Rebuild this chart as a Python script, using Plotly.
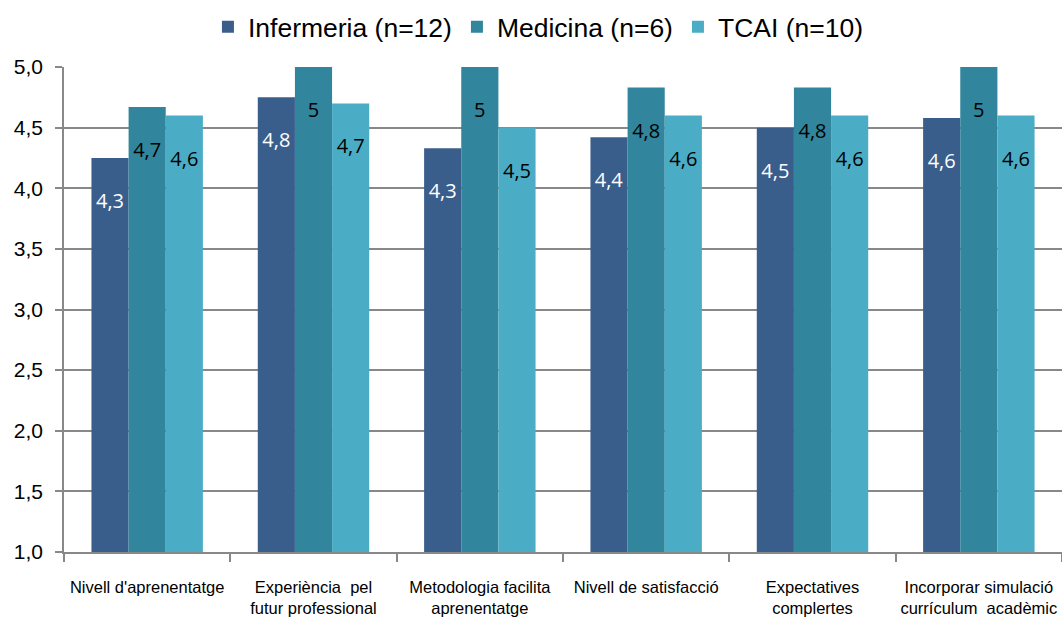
import plotly.graph_objects as go

categories = [
    "Nivell d'aprenentatge",
    "Experiència  pel<br>futur professional",
    "Metodologia facilita<br>aprenentatge",
    "Nivell de satisfacció",
    "Expectatives<br>complertes",
    "Incorporar simulació<br>currículum  acadèmic",
]

infermeria = [4.25, 4.75, 4.33, 4.42, 4.50, 4.58]
medicina = [4.67, 5.00, 5.00, 4.83, 4.83, 5.00]
tcai = [4.60, 4.70, 4.50, 4.60, 4.60, 4.60]

infermeria_labels = ["4,3", "4,8", "4,3", "4,4", "4,5", "4,6"]
medicina_labels = ["4,7", "5", "5", "4,8", "4,8", "5"]
tcai_labels = ["4,6", "4,7", "4,5", "4,6", "4,6", "4,6"]

series = [
    ("Infermeria (n=12)", infermeria, infermeria_labels, "#3A5E8C", "white"),
    ("Medicina (n=6)", medicina, medicina_labels, "#31859C", "black"),
    ("TCAI (n=10)", tcai, tcai_labels, "#4BACC6", "black"),
]

fig = go.Figure()
for name, vals, labels, color, tcolor in series:
    fig.add_trace(go.Bar(
        name=name,
        x=categories,
        y=vals,
        text=["&nbsp;<br>" + t for t in labels],
        textposition="inside",
        insidetextanchor="end",
        constraintext="none",
        textangle=0,
        insidetextfont=dict(family="Open Sans", size=20, color=tcolor),
        marker=dict(color=color, line=dict(width=0)),
        hoverinfo="skip",
    ))

fig.update_layout(
    width=1062, height=627,
    barmode="group",
    bargap=0.33,
    bargroupgap=0,
    separators=", ",
    plot_bgcolor="white",
    paper_bgcolor="white",
    margin=dict(l=64, r=0, t=67, b=75, autoexpand=False),
    font=dict(family="Liberation Sans, Arial", color="black"),
    legend=dict(
        orientation="h",
        xref="container",
        x=0.507, xanchor="center",
        yref="container",
        y=0.995, yanchor="top",
        font=dict(size=26.5, color="black"),
        itemwidth=30,
        tracegroupgap=0,
    ),
    showlegend=True,
)

fig.update_yaxes(
    range=[1, 5],
    dtick=0.5,
    tickformat=".1f",
    showgrid=True,
    gridcolor="#888888",
    gridwidth=1.5,
    showline=True,
    linecolor="#888888",
    linewidth=1.5,
    ticks="outside",
    ticklen=7,
    tickcolor="#888888",
    tickwidth=1.5,
    ticklabelstandoff=8,
    tickfont=dict(size=21, color="black"),
    zeroline=False,
)
fig.update_xaxes(
    showline=True,
    linecolor="#888888",
    linewidth=1.5,
    ticks="outside",
    tickson="boundaries",
    ticklen=8,
    tickcolor="#888888",
    tickwidth=1.5,
    ticklabelstandoff=19,
    tickfont=dict(size=16.5, color="black"),
)

fig.write_html(
    "out.html",
    config={"displayModeBar": False},
    post_script="document.body.style.margin='0';document.body.style.padding='0';",
)
